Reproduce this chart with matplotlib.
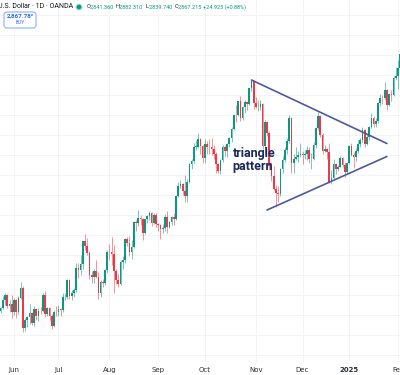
import numpy as np
import pandas as pd
from matplotlib import pyplot as plt
from matplotlib.patches import FancyBboxPatch

# XAU/USD daily candles (May 24 2024 .. Feb 5 2025)
opens = [
    2329, 2334, 2351, 2361, 2338, 2343,
    2327, 2350, 2327, 2355, 2375, 2294, 2311, 2316, 2324, 2304, 2333, 2319, 2329, 2328, 2360, 2322, 2334, 2319, 2298, 2327,
    2326, 2332, 2330, 2356, 2356, 2391, 2359, 2364, 2371, 2415, 2411, 2422, 2469, 2458, 2445, 2400, 2396, 2409, 2397, 2364, 2387, 2384, 2410,
    2447, 2446, 2442, 2409, 2390, 2383, 2427, 2431, 2472, 2465, 2447, 2456, 2507, 2504, 2514, 2512, 2484, 2512, 2518, 2524, 2504, 2521,
    2503, 2500, 2493, 2495, 2517, 2497, 2506, 2516, 2512, 2558, 2578, 2582, 2569, 2559, 2586, 2622, 2628, 2657, 2657, 2672, 2658,
    2634, 2662, 2657, 2656, 2653, 2643, 2622, 2608, 2630, 2657, 2649, 2662, 2674, 2693, 2721, 2720, 2748, 2715, 2736, 2747, 2743, 2774, 2788,
    2744, 2736, 2736, 2742, 2659, 2706, 2684, 2618, 2598, 2573, 2565, 2563, 2612, 2631, 2651, 2669, 2715, 2625, 2633, 2637, 2640,
    2643, 2640, 2643, 2650, 2632, 2633, 2660, 2694, 2718, 2680, 2648, 2652, 2646, 2587, 2594, 2622, 2613, 2617, 2634, 2621, 2606,
    2624, 2658, 2640, 2636, 2648, 2662, 2670, 2690, 2663, 2677, 2696, 2715, 2703, 2708, 2745, 2755, 2754, 2770, 2740, 2763, 2760, 2794,
    2798, 2815, 2841.36,
]
highs = [
    2337, 2358, 2364, 2363, 2351, 2360,
    2354, 2353, 2358, 2387, 2379, 2315, 2318, 2342, 2326, 2339, 2335, 2334, 2336, 2365, 2369, 2336, 2336, 2322, 2331, 2338,
    2340, 2334, 2365, 2364, 2392, 2393, 2370, 2375, 2424, 2425, 2440, 2469, 2483, 2474, 2448, 2408, 2412, 2431, 2406, 2390, 2393, 2413, 2451,
    2462, 2477, 2460, 2412, 2402, 2430, 2438, 2474, 2477, 2479, 2471, 2509, 2510, 2531, 2520, 2514, 2513, 2521, 2528, 2526, 2525, 2524,
    2505, 2503, 2503, 2523, 2529, 2508, 2518, 2525, 2560, 2586, 2590, 2584, 2600, 2593, 2625, 2632, 2664, 2670, 2685, 2675, 2660,
    2673, 2669, 2672, 2674, 2660, 2646, 2625, 2633, 2661, 2660, 2664, 2676, 2696, 2722, 2740, 2749, 2758, 2739, 2750, 2749, 2775, 2790, 2790,
    2757, 2750, 2750, 2745, 2711, 2709, 2688, 2627, 2618, 2581, 2578, 2615, 2639, 2656, 2674, 2721, 2717, 2642, 2657, 2648, 2665,
    2649, 2650, 2658, 2656, 2645, 2667, 2696, 2726, 2721, 2685, 2660, 2654, 2664, 2611, 2632, 2624, 2620, 2638, 2636, 2626, 2626,
    2660, 2665, 2647, 2655, 2671, 2675, 2697, 2692, 2683, 2698, 2725, 2718, 2715, 2746, 2763, 2760, 2786, 2772, 2765, 2771, 2799, 2817,
    2830, 2845, 2882.31,
]
lows = [
    2325, 2332, 2340, 2335, 2326, 2314,
    2320, 2314, 2322, 2352, 2287, 2289, 2296, 2303, 2301, 2299, 2310, 2309, 2322, 2326, 2316, 2318, 2310, 2293, 2297, 2318,
    2319, 2318, 2326, 2351, 2353, 2353, 2351, 2356, 2366, 2395, 2401, 2412, 2451, 2440, 2393, 2384, 2385, 2394, 2353, 2357, 2376, 2380, 2405,
    2430, 2420, 2364, 2382, 2377, 2380, 2413, 2425, 2459, 2438, 2432, 2454, 2489, 2498, 2500, 2471, 2483, 2505, 2510, 2498, 2503, 2496,
    2488, 2472, 2484, 2488, 2485, 2494, 2500, 2500, 2510, 2556, 2574, 2561, 2546, 2547, 2584, 2613, 2624, 2651, 2655, 2643, 2625,
    2624, 2643, 2643, 2640, 2633, 2605, 2604, 2603, 2626, 2639, 2637, 2656, 2666, 2690, 2706, 2718, 2709, 2711, 2725, 2730, 2740, 2768, 2733,
    2734, 2729, 2731, 2652, 2643, 2679, 2610, 2589, 2570, 2536, 2547, 2558, 2605, 2626, 2642, 2664, 2605, 2604, 2630, 2627, 2636,
    2622, 2632, 2631, 2625, 2613, 2631, 2655, 2690, 2676, 2643, 2646, 2633, 2584, 2583, 2592, 2602, 2609, 2616, 2616, 2597, 2603,
    2622, 2638, 2615, 2629, 2645, 2656, 2667, 2656, 2661, 2670, 2694, 2697, 2696, 2705, 2738, 2742, 2750, 2731, 2738, 2749, 2758, 2790,
    2772, 2812, 2839.74,
]
closes = [
    2334, 2351, 2361, 2338, 2343, 2327,
    2350, 2327, 2355, 2375, 2294, 2311, 2316, 2324, 2304, 2333, 2319, 2329, 2328, 2360, 2322, 2334, 2319, 2298, 2327, 2326,
    2332, 2330, 2356, 2356, 2391, 2359, 2364, 2371, 2415, 2411, 2422, 2469, 2458, 2445, 2400, 2396, 2409, 2397, 2364, 2387, 2384, 2410, 2447,
    2446, 2442, 2409, 2390, 2383, 2427, 2431, 2472, 2465, 2447, 2456, 2507, 2504, 2514, 2512, 2484, 2512, 2518, 2524, 2504, 2521, 2503,
    2500, 2493, 2495, 2517, 2497, 2506, 2516, 2512, 2558, 2578, 2582, 2569, 2559, 2586, 2622, 2628, 2657, 2657, 2672, 2658, 2634,
    2662, 2657, 2656, 2653, 2643, 2622, 2608, 2630, 2657, 2649, 2662, 2674, 2693, 2721, 2720, 2748, 2715, 2736, 2747, 2743, 2774, 2788, 2744,
    2736, 2736, 2742, 2659, 2706, 2684, 2618, 2598, 2573, 2565, 2563, 2612, 2631, 2651, 2669, 2715, 2625, 2633, 2637, 2640, 2643,
    2640, 2643, 2650, 2632, 2633, 2660, 2694, 2718, 2680, 2648, 2652, 2646, 2587, 2594, 2622, 2613, 2617, 2634, 2621, 2606, 2624,
    2658, 2640, 2636, 2648, 2662, 2670, 2690, 2663, 2677, 2696, 2715, 2703, 2708, 2745, 2755, 2754, 2770, 2740, 2763, 2760, 2794, 2798,
    2815, 2842, 2867.215,
]

# trading days (no candle on Christmas / New Year)
dates = pd.bdate_range('2024-05-24', '2025-02-05')
dates = dates[~dates.isin(pd.to_datetime(['2024-12-25', '2025-01-01']))]

month_labels = ['Jun', 'Jul', 'Aug', 'Sep', 'Oct', 'Nov', 'Dec', '2025', 'Feb']

# hand-drawn triangle: (date, price) end points
upper_line = [('2024-10-30', 2790), ('2025-01-27', 2663)]
lower_line = [('2024-11-08', 2530), ('2025-01-27', 2637)]

UP = '#089981'
DOWN = '#f23645'

o = np.array(opens)
h = np.array(highs)
l = np.array(lows)
c = np.array(closes)
x = np.arange(len(dates))
colors = np.where(c >= o, UP, DOWN)

fig = plt.figure(figsize=(4.0, 3.75), dpi=100)
ax = fig.add_axes([0, 13 / 375, 1, 362 / 375])

# wicks + bodies
ax.vlines(x, l, h, colors=colors, linewidth=0.7, alpha=0.55, zorder=2)
body = np.maximum(np.abs(c - o), 0.8)
ax.bar(x, body, bottom=np.minimum(o, c), width=0.75, color=colors, linewidth=0, zorder=3)

# triangle pattern
def pos(d):
    return dates.get_loc(pd.Timestamp(d))

for line in (upper_line, lower_line):
    ax.plot([pos(p[0]) for p in line], [p[1] for p in line], color='#4c5a9c', lw=1.2, zorder=4,
            solid_capstyle='round')
ax.text(pos('2024-10-17') + 0.5, 2630, 'triangle\npattern', family='Roboto', fontweight='bold',
        fontsize=9, color='#1b2a5c', ha='left', va='center', linespacing=1.0, zorder=5)

# axes
month_pos = [np.argmax(dates >= pd.Timestamp(f'{y}-{m:02d}-01'))
             for y, m in [(2024, 6), (2024, 7), (2024, 8), (2024, 9), (2024, 10),
                          (2024, 11), (2024, 12), (2025, 1), (2025, 2)]]
ax.set_xticks(month_pos)
ax.set_xticklabels(month_labels)
ax.get_xticklabels()[7].set_fontweight('bold')
ax.set_yticks(np.arange(2240, 2960, 40))
ax.set_xlim(-0.3, 179.9)
ax.set_ylim(2226, 2950)
ax.grid(True, color='#f3f4f8', linewidth=0.7, zorder=0)
ax.tick_params(axis='x', length=0, pad=3.5, labelsize=5, labelcolor='#2a2e39')
ax.tick_params(axis='y', left=False, labelleft=False)
for s in ax.spines.values():
    s.set_visible(False)

# header
def fx(px):
    return px / 400

def fy(py):
    return 1 - py / 375

fig.text(fx(-2.5), fy(7), 'U.S. Dollar · 1D · OANDA', fontsize=5, color='#131722', va='center', family='Roboto')
fig.patches.append(plt.Circle((fx(79), fy(7)), 0.0075, transform=fig.transFigure, color=UP, alpha=0.25))
fig.patches.append(plt.Circle((fx(79), fy(7)), 0.004, transform=fig.transFigure, color=UP))
xs = 86.5
for lab, val in [('O', '2,841.360'), ('H', '2,882.310'), ('L', '2,839.740'), ('C', '2,867.215')]:
    fig.text(fx(xs), fy(7), lab, fontsize=4, color='#131722', va='center', family='Roboto')
    fig.text(fx(xs + 2.8), fy(7), val, fontsize=4, color=UP, va='center', family='Roboto')
    xs += 29.5
fig.text(fx(xs - 1.5), fy(7), '+24.925 (+0.88%)', fontsize=4, color=UP, va='center', family='Roboto')

box = FancyBboxPatch((fx(4), fy(28)), fx(32), 16 / 375, boxstyle='round,pad=0,rounding_size=0.008',
                     transform=fig.transFigure, facecolor='white', edgecolor='#8fb0ff', linewidth=0.8)
fig.patches.append(box)
fig.text(fx(20), fy(15.5), '2,867.78²', fontsize=4.5, color='#2962ff', ha='center', va='center', family='Roboto',
         fontweight='bold')
fig.text(fx(20), fy(23), 'BUY', fontsize=3.5, color='#2962ff', ha='center', va='center', family='Roboto')

fig.savefig('out.png', dpi=100)
